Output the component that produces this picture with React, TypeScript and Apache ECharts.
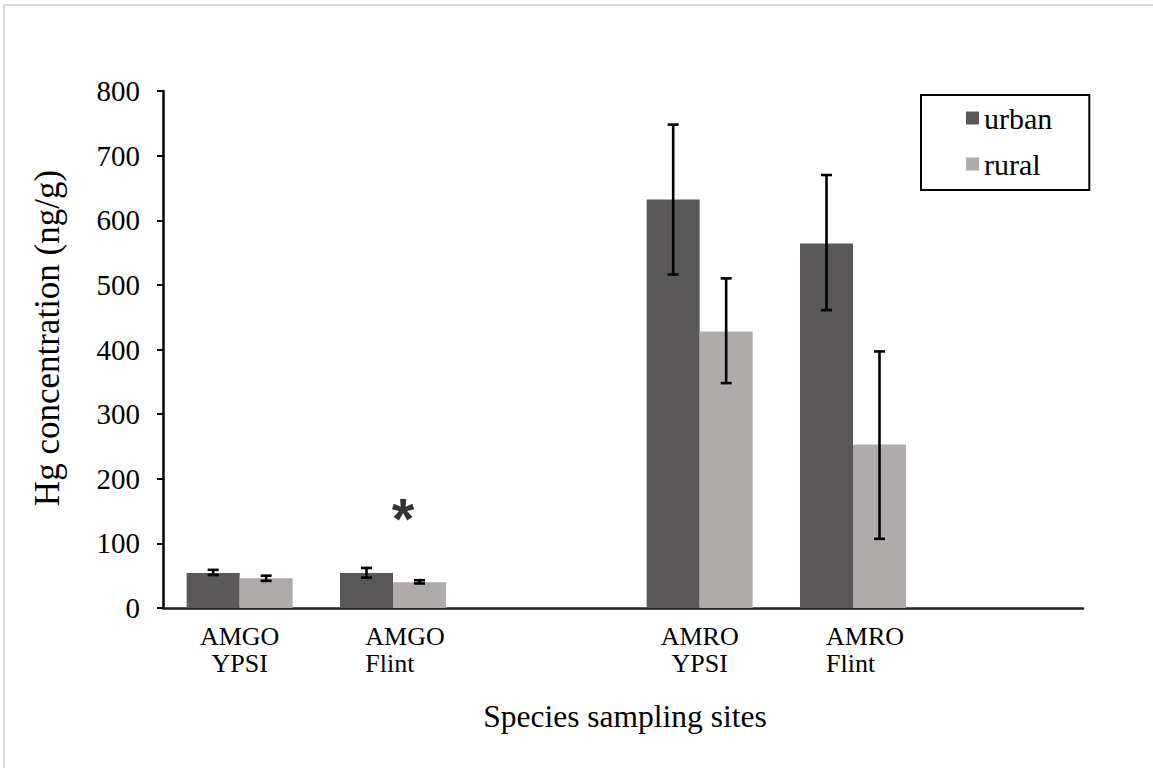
import React, { useEffect, useRef } from "react";
import * as echarts from "echarts";

// Mercury concentration in feathers, by species and sampling site
const categories = ["AMGO\nYPSI", "AMGO\nFlint", " ", "AMRO\nYPSI", "AMRO\nFlint", "  "];
const seriesNames = ["urban", "rural"];

const urbanMeans = [54, 54, null, 632, 564, null];
const urbanLow = [51, 47, null, 516, 461, null];
const urbanHigh = [59, 62, null, 748, 670, null];

const ruralMeans = [46, 40, null, 428, 253, null];
const ruralLow = [42, 38, null, 348, 107, null];
const ruralHigh = [50, 43, null, 510, 397, null];

// significance marker (category, height on the value axis)
const markers = [{ category: "AMGO\nFlint", value: 150, text: "*" }];

const yMin = 0;
const yMax = 800;
const yStep = 100;

const SERIF = "'Liberation Serif', 'Times New Roman', serif";
const URBAN_COLOR = "#595757";
const RURAL_COLOR = "#AFABAB";
const BAR_WIDTH = 53;

function errorRows(low: (number | null)[], high: (number | null)[]) {
  const rows: [number, number, number][] = [];
  low.forEach((l, i) => {
    const h = high[i];
    if (l != null && h != null) rows.push([i, l, h]);
  });
  return rows;
}

function errorBarRenderer(offset: number) {
  return (params: any, api: any) => {
    const idx = api.value(0);
    const lo = api.coord([idx, api.value(1)]);
    const hi = api.coord([idx, api.value(2)]);
    const cx = lo[0] + offset;
    const cap = 5.5;
    const style = { stroke: "#000", lineWidth: 2.6 };
    return {
      type: "group",
      children: [
        { type: "line", shape: { x1: cx, y1: hi[1], x2: cx, y2: lo[1] }, style },
        { type: "line", shape: { x1: cx - cap, y1: hi[1], x2: cx + cap, y2: hi[1] }, style },
        { type: "line", shape: { x1: cx - cap, y1: lo[1], x2: cx + cap, y2: lo[1] }, style },
      ],
    };
  };
}

export default function App() {
  const ref = useRef<HTMLDivElement>(null);

  useEffect(() => {
    if (!ref.current) return;
    const chart = echarts.init(ref.current, null, { renderer: "svg" });

    chart.setOption({
      animation: false,
      backgroundColor: "#fff",
      textStyle: { fontFamily: SERIF, color: "#000" },
      graphic: [
        {
          type: "rect",
          shape: { x: 4, y: 5, width: 1200, height: 820 },
          style: { fill: "none", stroke: "#d9d9d9", lineWidth: 2 },
          silent: true,
          z: -10,
        },
      ],
      grid: { left: 163, right: 70, top: 91, bottom: 160, containLabel: false },
      legend: {
        data: seriesNames,
        orient: "vertical",
        left: 921,
        top: 95,
        padding: [8, 37, 11, 45],
        itemWidth: 13,
        itemHeight: 13,
        itemGap: 16,
        icon: "rect",
        borderColor: "#000",
        borderWidth: 2,
        borderRadius: 0,
        textStyle: { fontFamily: SERIF, fontSize: 30, lineHeight: 30, color: "#000" },
      },
      xAxis: {
        type: "category",
        data: categories,
        boundaryGap: true,
        axisTick: { show: false },
        axisLine: { lineStyle: { color: "#222", width: 2.5 } },
        axisLabel: {
          interval: 0,
          margin: 15,
          formatter: (v: string) => {
            const parts = v.split("\n");
            if (parts.length < 2) return "";
            const key = v.includes("Flint") ? "f" : "c";
            return parts.map((p) => `{${key}|${p}}`).join("\n");
          },
          rich: {
            c: { fontFamily: SERIF, fontSize: 26, lineHeight: 27, color: "#000", align: "center" },
            f: {
              fontFamily: SERIF,
              fontSize: 26,
              lineHeight: 27,
              color: "#000",
              align: "left",
              padding: [0, 0, 0, 24],
            },
          },
        },
        name: "Species sampling sites",
        nameLocation: "middle",
        nameGap: 92,
        nameTextStyle: { fontFamily: SERIF, fontSize: 31.5, color: "#000", padding: [0, 0, 0, 4] },
      },
      yAxis: {
        type: "value",
        min: yMin,
        max: yMax,
        interval: yStep,
        splitLine: { show: false },
        axisLine: { show: true, lineStyle: { color: "#000", width: 2.5 } },
        axisTick: { show: true, length: 6, lineStyle: { color: "#000", width: 2 } },
        axisLabel: { fontFamily: SERIF, fontSize: 29, color: "#000", margin: 23 },
        name: "Hg concentration (ng/g)",
        nameLocation: "middle",
        nameGap: 98,
        nameTextStyle: { fontFamily: SERIF, fontSize: 35, color: "#000", padding: [0, 0, 0, 23] },
      },
      series: [
        {
          name: seriesNames[0],
          type: "bar",
          data: urbanMeans.map((v) => (v == null ? "-" : v)),
          barWidth: BAR_WIDTH,
          barGap: "0%",
          itemStyle: { color: URBAN_COLOR },
          z: 2,
        },
        {
          name: seriesNames[1],
          type: "bar",
          data: ruralMeans.map((v) => (v == null ? "-" : v)),
          barWidth: BAR_WIDTH,
          barGap: "0%",
          itemStyle: { color: RURAL_COLOR },
          z: 2,
        },
        {
          name: "urban error",
          type: "custom",
          renderItem: errorBarRenderer(-BAR_WIDTH / 2),
          encode: { x: 0, y: [1, 2] },
          data: errorRows(urbanLow, urbanHigh),
          z: 4,
        },
        {
          name: "rural error",
          type: "custom",
          renderItem: errorBarRenderer(BAR_WIDTH / 2),
          encode: { x: 0, y: [1, 2] },
          data: errorRows(ruralLow, ruralHigh),
          z: 4,
        },
        {
          name: "significance",
          type: "scatter",
          symbol: "circle",
          symbolSize: 2,
          itemStyle: { color: "rgba(0,0,0,0)" },
          data: markers.map((m) => [categories.indexOf(m.category), m.value]),
          label: {
            show: true,
            position: "inside",
            offset: [10, 7],
            formatter: (p: any) => markers[p.dataIndex].text,
            fontFamily: "'Liberation Sans', Arial, sans-serif",
            fontWeight: "bold",
            fontSize: 58,
            color: "#000",
          },
          z: 5,
        },
      ],
    });

    return () => chart.dispose();
  }, []);

  return (
    <div
      ref={ref}
      style={{ position: "fixed", left: 0, top: 0, width: 1153, height: 768, background: "#fff" }}
    />
  );
}
